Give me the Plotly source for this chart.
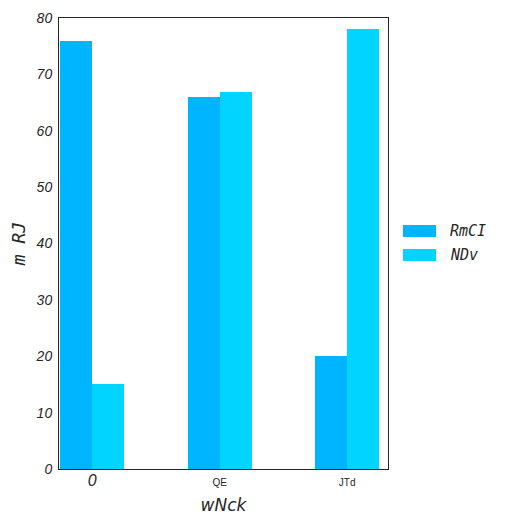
import plotly.graph_objects as go

categories = [0, 1, 2]
tick_labels = ["<span style='font-size:16px;font-style:italic'>0</span>", "QE", "JTd"]
series_names = ["RmCI", "NDv"]
rmci = [76, 66, 20]
ndv = [15, 66.8, 78]
colors = ["#00B5FF", "#00D4FF"]

W, H = 525, 525
L, R, T, B = 51, 145, 10, 64

fig = go.Figure()
fig.add_trace(go.Bar(x=categories, y=rmci, name=series_names[0], marker_color=colors[0],
                     offset=-0.25, width=0.25, marker_line_width=0))
fig.add_trace(go.Bar(x=categories, y=ndv, name=series_names[1], marker_color=colors[1],
                     offset=0, width=0.25, marker_line_width=0))

# legend drawn by hand to get matplotlib-like wide patches
pw = W - L - R
ph = H - T - B
def px_x(p):
    return (p - L) / pw
def px_y(p):
    return 1 - (p - T) / ph

for i, (name, col) in enumerate(zip(series_names, colors)):
    cy = 223 + 24 * i
    fig.add_shape(type="rect", xref="paper", yref="paper",
                  x0=px_x(395), x1=px_x(428), y0=px_y(cy - 6), y1=px_y(cy + 6),
                  fillcolor=col, line_width=0)
    fig.add_annotation(xref="paper", yref="paper", x=px_x(440), y=px_y(cy),
                       text=name, showarrow=False, xanchor="left", yanchor="middle",
                       font=dict(family="DejaVu Sans Mono", size=15, style="italic",
                                 color="#262626"))

fig.update_layout(
    width=W, height=H,
    margin=dict(l=L, r=R, t=T, b=B),
    plot_bgcolor="white", paper_bgcolor="white",
    font=dict(family="DejaVu Sans", color="#262626"),
    bargap=0,
    showlegend=False,
    xaxis=dict(range=[-0.26, 2.32], tickvals=categories, ticktext=tick_labels,
               tickfont=dict(size=10, family="Liberation Sans"), automargin=False,
               ticklabelstandoff=4,
               showline=True, linecolor="#262626", linewidth=1, mirror=True,
               showgrid=False, zeroline=False, ticks="",
               title=dict(text="wNck", font=dict(size=17, style="italic"), standoff=11)),
    yaxis=dict(range=[0, 80], tickvals=list(range(0, 81, 10)), automargin=False,
               tickfont=dict(size=14, style="italic", family="Liberation Sans"),
               ticklabelstandoff=3,
               showline=True, linecolor="#262626", linewidth=1, mirror=True,
               showgrid=False, zeroline=False, ticks="",
               title=dict(text="m RJ", font=dict(size=18, style="italic",
                                                 family="DejaVu Sans Mono"), standoff=12)),
)

fig.write_html("out.html")
